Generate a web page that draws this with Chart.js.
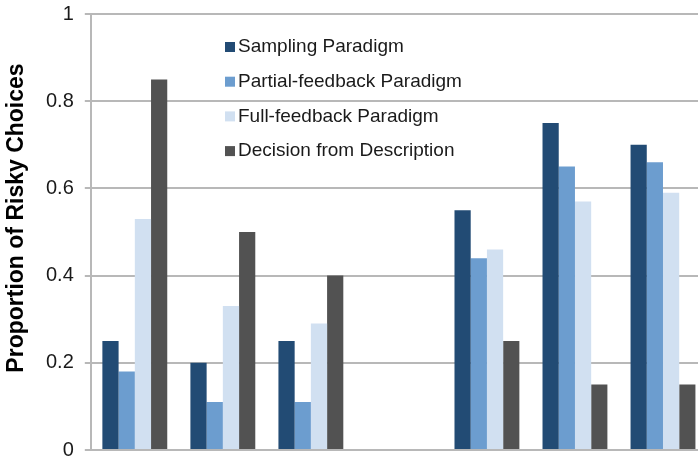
<!DOCTYPE html>
<html lang="en">
<head>
  <meta charset="UTF-8">
  <title>Proportion of Risky Choices</title>
  <style>
    body {
      margin: 0;
      padding: 0;
      overflow: hidden;
      background: #fff;
    }
    /* chart box is bigger than the window: the last group sits on the right edge
       and the label margins above/below the plot are cropped off */
    .chart-box {
      position: relative;
      top: -9px;
      width: 707px;
      height: 482px;
    }
  </style>
</head>
<body>
  <div class="chart-box">
    <canvas id="risky-chart"></canvas>
  </div>

  <script src="https://cdn.jsdelivr.net/npm/chart.js"></script>
  <script>
    // groups along the x axis (no labels shown, 4th slot empty)
    const groups = ["1", "2", "3", "", "5", "6", "7"];
    const seriesNames = [
      "Sampling Paradigm",
      "Partial-feedback Paradigm",
      "Full-feedback Paradigm",
      "Decision from Description"
    ];
    const sampling    = [0.25, 0.20, 0.25, null, 0.55, 0.75, 0.70];
    const partialFb   = [0.18, 0.11, 0.11, null, 0.44, 0.65, 0.66];
    const fullFb      = [0.53, 0.33, 0.29, null, 0.46, 0.57, 0.59];
    const description = [0.85, 0.50, 0.40, null, 0.25, 0.15, 0.15];
    const yTicks = [0, 0.2, 0.4, 0.6, 0.8, 1];

    const colors = ["#224b74", "#6c9dcf", "#d1e0f1", "#525252"];
    const fontFamily = "'Liberation Sans', Arial, sans-serif";
    const shiftY = 9; // box is moved up by this much

    // legend drawn inside the plot, like the original figure
    const insideLegend = {
      id: "insideLegend",
      afterDraw(chart) {
        const ctx = chart.ctx;
        ctx.save();
        ctx.font = "19px " + fontFamily;
        ctx.textBaseline = "middle";
        chart.data.datasets.forEach((ds, i) => {
          const y = 47 + shiftY + i * 34.7;
          ctx.fillStyle = ds.backgroundColor;
          ctx.fillRect(225, y - 5, 10, 10);
          ctx.fillStyle = "#1a1a1a";
          ctx.fillText(ds.label, 238, y);
        });
        ctx.restore();
      }
    };

    // rotated y title (sits a bit above the axis middle)
    const yTitle = {
      id: "yTitle",
      afterDraw(chart) {
        const ctx = chart.ctx;
        ctx.save();
        ctx.translate(17, 218 + shiftY);
        ctx.rotate(-Math.PI / 2);
        ctx.font = "bold 23px " + fontFamily;
        ctx.fillStyle = "#000";
        ctx.textAlign = "center";
        ctx.textBaseline = "middle";
        ctx.fillText("Proportion of Risky Choices", 0, 0);
        ctx.restore();
      }
    };

    const allSeries = [sampling, partialFb, fullFb, description];

    new Chart(document.getElementById("risky-chart"), {
      type: "bar",
      data: {
        labels: groups,
        datasets: allSeries.map((vals, i) => ({
          label: seriesNames[i],
          data: vals,
          backgroundColor: colors[i],
          borderWidth: 0,
          categoryPercentage: 0.737,
          barPercentage: 1.0
        }))
      },
      options: {
        responsive: true,
        maintainAspectRatio: false,
        animation: false,
        layout: {
          padding: { left: 35, top: 0, right: 0, bottom: 0 }
        },
        plugins: {
          legend: { display: false },
          tooltip: { enabled: false }
        },
        scales: {
          x: {
            display: false
          },
          y: {
            min: 0,
            max: 1,
            afterBuildTicks: (axis) => {
              axis.ticks = yTicks.map((v) => ({ value: v }));
            },
            grid: {
              color: "#b8b8b8",
              lineWidth: 2,
              tickLength: 6
            },
            border: { color: "#b8b8b8", width: 2 },
            ticks: {
              padding: 11,
              color: "#1a1a1a",
              font: { family: fontFamily, size: 20 },
              callback: (v) => String(v)
            }
          }
        }
      },
      plugins: [insideLegend, yTitle]
    });
  </script>
</body>
</html>
